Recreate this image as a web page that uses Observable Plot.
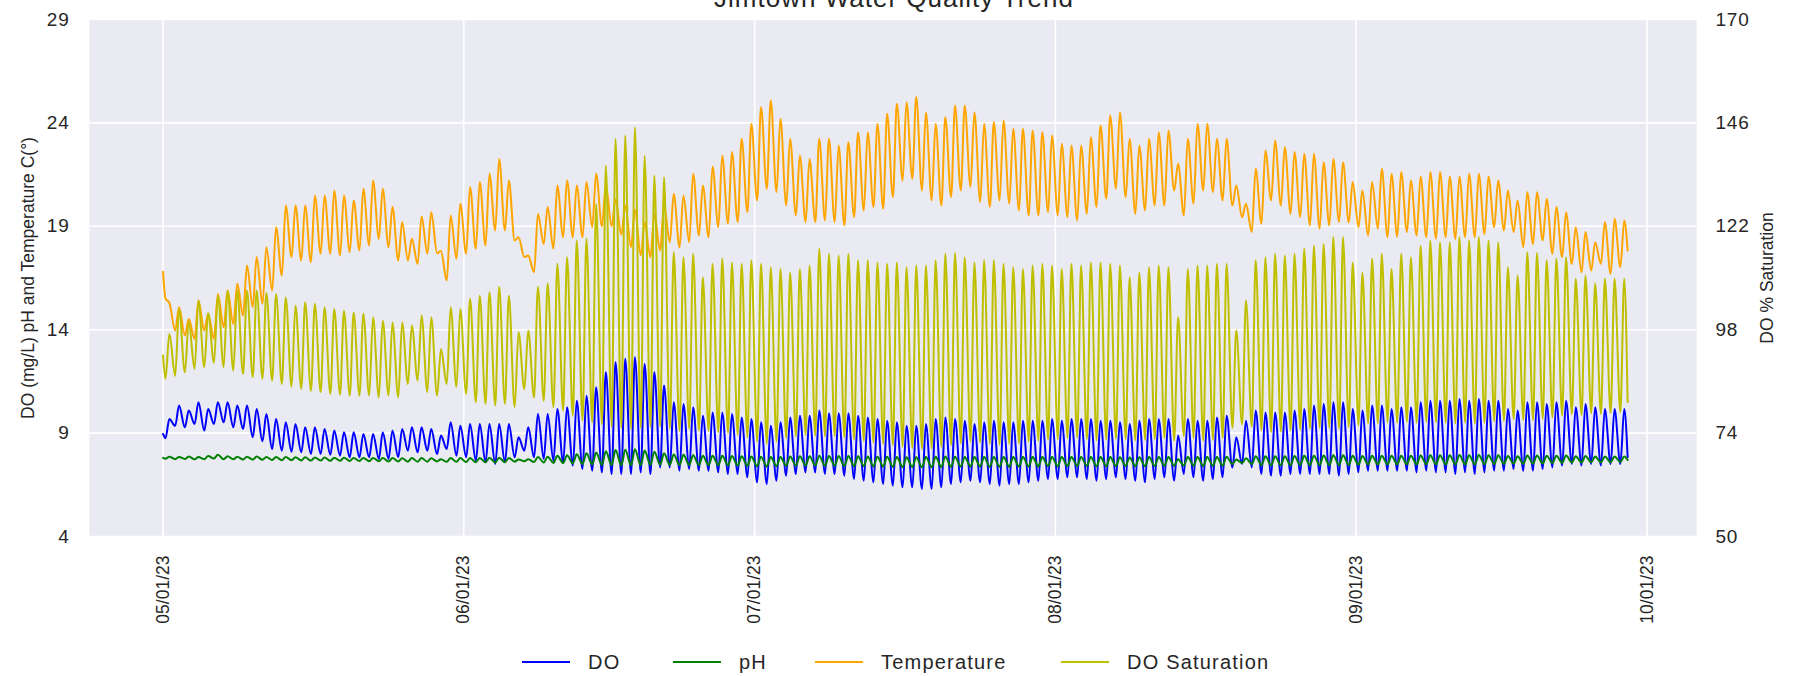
<!DOCTYPE html>
<html>
<head>
<meta charset="utf-8">
<script src="https://cdn.jsdelivr.net/npm/d3@7"></script>
<script src="https://cdn.jsdelivr.net/npm/@observablehq/plot@0.6"></script>
<style>
  html, body { margin: 0; padding: 0; background: #ffffff; }
  body { width: 1804px; height: 676px; overflow: hidden; position: relative;
         font-family: "Liberation Sans", Arial, sans-serif; color: #262626; }
  #title { position: absolute; left: -8px; width: 1804px; top: -14px; text-align: center;
           font-size: 26px; line-height: 25px; letter-spacing: 1px; color: #262626; white-space: nowrap; }
  #chart { position: absolute; left: 0; top: 0; }
  #legend { position: absolute; left: 0; top: 650px; width: 1804px; height: 24px; }
  .lg-line { position: absolute; top: 11px; height: 2px; width: 48px; }
  .lg-text { position: absolute; top: 0; font-size: 20px; line-height: 24px; letter-spacing: 1.2px; color: #262626; white-space: nowrap; }
  svg [aria-label="y-axis tick label"] text { letter-spacing: 0.8px; }
</style>
</head>
<body>
<div id="title"></div>
<div id="chart"></div>
<div id="legend"></div>
<script>
// ---------------- data (daily low / high readings, May 1 – Sep 29, 2023) ----------------
const chartTitle = "Jimtown Water Quality Trend";
const leftLabel = "DO (mg/L) pH and Temperature C(°)";
const rightLabel = "DO % Saturation";
const seriesNames = ["DO", "pH", "Temperature", "DO Saturation"];
const seriesColors = ["#0000ff", "#008000", "#ffa500", "#bfbf00"];
const monthTicks = ["2023-05-01", "2023-06-01", "2023-07-01", "2023-08-01", "2023-09-01", "2023-10-01"];
const leftTicks = [4, 9, 14, 19, 24, 29];
const rightTicks = [50, 74, 98, 122, 146, 170];
const startDate = "2023-05-01";

// Dissolved oxygen (mg/L)
const doStart = 8.96, doEnd = 7.83;
const doLo = [8.75,9.35,9.28,9.44,9.12,9.44,9.52,9.28,9.2,8.8,
  8.6,8.23,8.15,8.1,8.07,7.99,7.99,7.95,7.91,7.83,
  7.83,7.83,7.75,7.75,7.83,8.15,8.07,8.15,7.99,8.23,
  7.91,7.83,7.67,7.59,7.51,7.59,7.83,8.15,7.83,7.75,
  7.67,7.59,7.43,7.26,7.18,7.1,7.02,7.02,7.02,7.1,
  7.02,7.34,7.34,7.18,7.26,7.18,7.18,7.1,7.02,7.02,
  6.86,6.62,6.54,6.7,6.94,7.02,7.1,7.1,7.02,7.02,
  6.94,6.78,6.7,6.62,6.54,6.46,6.38,6.38,6.3,6.3,
  6.38,6.54,6.62,6.7,6.62,6.54,6.46,6.54,6.54,6.62,
  6.7,6.78,6.78,6.86,6.86,6.78,6.7,6.78,6.86,6.78,
  6.7,6.62,6.78,6.86,6.7,7.02,6.86,6.7,6.78,6.86,
  7.34,7.51,7.34,7.02,6.94,6.94,7.02,7.02,7.02,7.02,
  7.02,6.94,7.02,7.1,7.18,7.18,7.18,7.18,7.18,7.1,
  7.18,7.1,7.1,7.02,7.1,7.02,7.1,7.18,7.18,7.26,
  7.18,7.18,7.26,7.34,7.43,7.51,7.43,7.51,7.43,7.51,
  7.51];
const doHi = [9.68,10.33,10.09,10.49,10.17,10.49,10.49,10.33,10.33,10.17,
  9.92,9.68,9.52,9.44,9.28,9.28,9.2,9.12,9.04,9.04,
  8.96,8.96,9.04,9.12,9.2,9.28,9.28,9.2,8.88,9.52,
  9.36,9.44,9.44,9.44,9.44,9.44,8.8,9.28,9.92,9.92,
  10.17,10.25,10.57,10.81,11.22,11.94,12.42,12.59,12.67,12.34,
  11.94,11.3,10.49,10.41,10.25,9.84,10.0,10.0,9.92,9.76,
  9.68,9.52,9.36,9.52,9.76,9.84,9.84,10.09,9.96,9.96,
  9.96,9.84,9.76,9.68,9.6,9.52,9.36,9.36,9.44,9.68,
  9.76,9.68,9.6,9.44,9.52,9.6,9.52,9.52,9.6,9.6,
  9.6,9.68,9.6,9.68,9.68,9.68,9.6,9.6,9.52,9.44,
  9.6,9.68,9.68,9.68,8.88,9.68,9.6,9.6,9.76,9.84,
  8.8,9.6,10.09,10.0,10.0,10.0,10.09,10.17,10.33,10.41,
  10.49,10.49,10.17,10.09,10.33,10.33,10.17,10.25,10.25,10.49,
  10.57,10.57,10.57,10.65,10.57,10.65,10.57,10.57,10.17,10.09,
  10.49,10.49,10.41,10.49,10.57,10.25,10.41,10.25,10.17,10.17,
  10.17];

// pH
const phStart = 7.8, phEnd = 7.7;
const phLo = [7.76,7.74,7.75,7.73,7.74,7.77,7.74,7.73,7.72,7.72,
  7.71,7.70,7.69,7.69,7.68,7.67,7.67,7.66,7.66,7.65,
  7.65,7.64,7.64,7.63,7.63,7.62,7.62,7.62,7.63,7.61,
  7.61,7.60,7.59,7.59,7.58,7.59,7.62,7.64,7.60,7.58,
  7.56,7.55,7.53,7.50,7.48,7.46,7.45,7.44,7.44,7.45,
  7.46,7.47,7.47,7.46,7.46,7.45,7.45,7.44,7.44,7.43,
  7.42,7.40,7.39,7.40,7.42,7.43,7.43,7.43,7.42,7.42,
  7.41,7.40,7.40,7.39,7.38,7.37,7.36,7.36,7.35,7.35,
  7.36,7.37,7.38,7.38,7.38,7.37,7.37,7.37,7.38,7.38,
  7.39,7.40,7.40,7.41,7.41,7.41,7.40,7.40,7.41,7.41,
  7.40,7.40,7.41,7.42,7.42,7.43,7.42,7.41,7.42,7.42,
  7.50,7.55,7.50,7.45,7.44,7.44,7.44,7.45,7.45,7.45,
  7.45,7.45,7.46,7.47,7.48,7.48,7.48,7.48,7.49,7.49,
  7.49,7.49,7.48,7.48,7.48,7.48,7.49,7.50,7.51,7.52,
  7.51,7.52,7.53,7.55,7.56,7.58,7.58,7.59,7.58,7.59,
  7.60];
const phHi = [7.86,7.85,7.87,7.84,7.89,7.95,7.88,7.86,7.86,7.87,
  7.85,7.84,7.84,7.83,7.83,7.82,7.82,7.81,7.81,7.80,
  7.80,7.80,7.79,7.79,7.78,7.79,7.79,7.78,7.74,7.80,
  7.79,7.80,7.80,7.81,7.81,7.80,7.72,7.74,7.84,7.86,
  7.90,7.93,7.98,8.02,8.06,8.12,8.18,8.20,8.22,8.16,
  8.10,8.02,7.96,7.95,7.93,7.90,7.91,7.90,7.89,7.88,
  7.87,7.86,7.84,7.85,7.87,7.88,7.88,7.90,7.89,7.89,
  7.89,7.88,7.87,7.86,7.86,7.85,7.83,7.83,7.84,7.86,
  7.87,7.86,7.85,7.84,7.84,7.85,7.84,7.84,7.84,7.84,
  7.84,7.85,7.84,7.85,7.85,7.85,7.84,7.84,7.83,7.82,
  7.83,7.84,7.84,7.84,7.74,7.84,7.84,7.84,7.85,7.86,
  7.72,7.78,7.88,7.88,7.88,7.88,7.89,7.90,7.91,7.92,
  7.93,7.93,7.90,7.89,7.91,7.91,7.90,7.91,7.91,7.92,
  7.93,7.93,7.93,7.94,7.93,7.94,7.93,7.93,7.89,7.88,
  7.92,7.92,7.91,7.91,7.92,7.88,7.89,7.87,7.87,7.87,
  7.87];

// Water temperature (°C)
const tempStart = 16.8, tempEnd = 17.83;
const tempLo = [15.5,13.96,13.72,13.55,13.96,13.55,14.12,14.28,14.68,15.09,
  15.25,15.89,16.62,17.51,17.35,17.26,17.67,17.67,17.59,17.75,
  17.83,18.07,18.39,17.99,17.35,17.35,17.18,17.67,17.7,16.38,
  17.43,17.67,17.91,18.07,18.8,18.8,18.31,17.51,16.78,18.15,
  17.91,18.47,18.47,18.47,18.96,19.0,19.0,18.6,18.0,17.6,
  17.5,17.83,18.23,17.99,18.23,18.55,18.47,18.96,19.12,19.2,
  19.68,20.25,20.81,20.65,20.0,19.52,19.2,19.2,19.28,19.2,
  19.04,19.44,19.76,19.93,19.85,20.41,21.2,21.3,20.73,20.25,
  20.0,20.41,20.73,20.9,20.17,19.93,20.25,20.09,19.76,19.52,
  19.52,19.68,19.52,19.44,19.28,19.6,19.93,20.33,20.81,20.41,
  19.6,19.76,20.0,20.0,20.73,19.52,20.09,20.73,20.65,20.25,
  20.0,19.44,18.72,19.12,20.25,20.0,19.6,19.44,19.04,18.88,
  19.04,19.2,19.2,18.96,18.55,18.88,18.47,18.5,18.72,18.55,
  18.47,18.39,18.47,18.39,18.47,18.47,18.63,18.96,18.8,18.72,
  17.99,18.15,18.31,17.67,17.51,17.18,16.78,16.86,17.18,16.7,
  17.02];
const tempHi = [15.3,15.09,14.52,15.41,14.77,15.73,15.89,16.22,17.1,17.51,
  17.99,18.96,20.0,20.0,20.0,20.49,20.49,20.73,20.49,20.25,
  20.81,21.22,20.81,19.93,19.2,18.4,19.47,19.68,17.8,19.52,
  20.09,20.9,21.14,21.54,22.26,21.22,18.47,17.59,19.6,19.93,
  20.97,21.22,20.97,21.14,21.54,21.0,20.3,20.0,19.8,19.2,
  19.6,20.0,20.57,20.49,21.54,20.97,21.89,22.42,22.59,23.23,
  23.96,24.76,25.09,24.2,23.23,22.42,22.26,23.23,23.23,22.91,
  23.07,23.55,23.55,23.96,24.44,24.92,25.0,25.25,24.52,23.96,
  24.28,24.84,24.84,24.52,23.96,24.04,24.12,23.72,23.72,23.63,
  23.55,23.39,22.99,22.91,22.91,23.31,23.88,24.36,24.52,23.23,
  22.91,23.23,23.55,23.63,22.02,23.23,23.96,23.96,23.23,23.23,
  20.97,20.09,21.78,22.67,23.15,22.83,22.59,22.51,22.51,22.1,
  22.26,22.1,21.14,20.73,21.14,21.78,21.54,21.62,21.22,21.41,
  21.62,21.62,21.41,21.41,21.54,21.54,21.41,21.22,20.73,20.25,
  20.65,20.65,20.33,19.93,19.68,18.96,18.72,18.23,19.2,19.36,
  19.28];

// DO % saturation (right axis)
const satStart = 92, satEnd = 81.2;
const satLo = [86.6,87.3,88.1,88.9,89.3,90.3,89.3,88.5,87.7,87.0,
  86.6,86.2,85.4,84.7,84.3,83.8,83.5,83.1,82.9,82.7,
  82.7,82.7,82.3,82.7,82.3,85.4,86.2,83.5,82.7,85.4,
  84.7,83.1,81.2,80.8,80.4,80.8,80.0,84.2,82.3,81.5,
  80.0,79.2,78.0,76.9,76.5,76.0,75.5,75.2,75.0,75.2,
  75.4,75.5,75.0,74.5,75.0,74.6,74.5,74.2,74.0,73.6,
  73.0,72.0,71.5,72.0,72.8,73.2,73.5,73.4,73.2,73.3,
  73.0,72.5,72.2,71.8,71.5,71.2,70.8,70.5,70.3,70.4,
  70.8,71.2,71.6,72.0,71.8,71.5,71.3,71.5,71.6,72.0,
  72.2,72.5,72.6,72.8,73.0,72.6,72.3,72.5,72.7,72.6,
  72.3,72.4,72.6,72.8,72.2,73.3,72.8,72.2,72.4,72.8,
  75.2,76.0,75.5,74.6,74.2,74.3,74.6,74.8,75.0,75.2,
  75.2,75.0,75.4,75.8,76.2,76.3,76.5,76.4,76.6,76.4,
  76.6,76.5,76.4,76.2,76.4,76.2,76.4,76.7,76.8,77.2,
  77.0,77.0,77.3,77.6,78.0,78.4,78.2,78.6,78.4,78.7,
  78.8];
const satHi = [97.0,102.8,99.9,104.8,101.8,105.9,107.1,107.1,107.1,107.1,
  106.6,106.3,105.5,103.6,104.4,104.0,103.2,102.8,102.4,102.0,
  101.7,100.9,100.1,99.7,99.7,99.0,101.3,100.9,93.5,103.2,
  102.8,105.2,105.9,106.7,107.9,105.9,97.4,97.8,107.9,108.7,
  113.3,114.8,118.7,119.1,127.2,136.1,142.3,143.1,145.0,138.4,
  133.8,133.4,116.0,114.8,115.6,110.2,113.3,114.5,113.6,113.3,
  114.1,113.3,112.5,112.1,111.3,112.1,112.9,116.8,115.6,115.2,
  115.6,114.1,114.1,113.6,113.3,113.6,112.5,112.9,112.9,114.1,
  115.6,115.8,114.8,113.6,114.1,114.1,113.3,112.5,112.1,112.9,
  113.3,112.9,112.1,113.3,112.9,113.6,113.6,113.3,112.9,110.2,
  111.3,112.5,112.9,112.5,100.9,112.1,112.9,112.9,113.3,113.3,
  97.8,104.8,114.1,114.8,115.6,115.2,115.6,116.8,117.5,117.9,
  119.5,119.5,113.6,111.3,114.5,115.6,112.1,115.6,114.8,117.5,
  118.7,118.3,118.3,119.5,118.7,119.5,118.7,118.3,112.5,110.6,
  116.0,115.8,114.1,114.5,114.8,109.8,110.6,108.7,109.8,109.8,
  109.8];

// ---------------- build series ----------------
const DAY = 86400000;
const t0 = Date.parse(startDate + "T00:00:00Z");
function series(start, lo, hi, end) {
  const rows = [{t: new Date(t0), v: start}];
  for (let d = 0; d < lo.length; d++) {
    rows.push({t: new Date(t0 + (d + 0.25) * DAY), v: lo[d]});
    rows.push({t: new Date(t0 + (d + 0.65) * DAY), v: hi[d]});
  }
  rows.push({t: new Date(t0 + lo.length * DAY), v: end});
  return rows;
}
const doRows = series(doStart, doLo, doHi, doEnd);
const phRows = series(phStart, phLo, phHi, phEnd);
const tempRows = series(tempStart, tempLo, tempHi, tempEnd);
const satRows = series(satStart, satLo, satHi, satEnd);

// right axis (50..170) is aligned to left axis (4..29)
const leftMin = leftTicks[0], leftMax = leftTicks[leftTicks.length - 1];
const rightMin = rightTicks[0], rightMax = rightTicks[rightTicks.length - 1];
const toLeft = s => leftMin + (s - rightMin) * (leftMax - leftMin) / (rightMax - rightMin);
const toRight = v => rightMin + (v - leftMin) * (rightMax - rightMin) / (leftMax - leftMin);

const monthDates = monthTicks.map(s => new Date(s + "T00:00:00Z"));
const fmt = d3.utcFormat("%m/%d/%y");
const textColor = "#262626";

const chart = Plot.plot({
  width: 1804,
  height: 630,
  marginLeft: 89,
  marginRight: 108,
  marginTop: 19,
  marginBottom: 94,
  style: {fontFamily: "'Liberation Sans', Arial, sans-serif", color: textColor, background: "transparent", overflow: "visible"},
  x: {type: "utc", domain: [new Date(Date.UTC(2023, 3, 23, 10)), new Date(Date.UTC(2023, 9, 6, 2, 24))]},
  y: {domain: [leftMin, leftMax]},
  marks: [
    Plot.frame({fill: "#eaeaf2", stroke: null}),
    Plot.gridX(monthDates, {stroke: "#ffffff", strokeOpacity: 1, strokeWidth: 1.6}),
    Plot.gridY(leftTicks, {stroke: "#ffffff", strokeOpacity: 1, strokeWidth: 1.6}),
    Plot.line(doRows, {x: "t", y: "v", stroke: seriesColors[0], strokeWidth: 2, curve: "monotone-x"}),
    Plot.line(phRows, {x: "t", y: "v", stroke: seriesColors[1], strokeWidth: 2, curve: "monotone-x"}),
    Plot.line(tempRows, {x: "t", y: "v", stroke: seriesColors[2], strokeWidth: 2, curve: "monotone-x"}),
    Plot.line(satRows, {x: "t", y: d => toLeft(d.v), stroke: seriesColors[3], strokeWidth: 2, curve: "monotone-x"}),
    Plot.axisX(monthDates, {tickFormat: fmt, tickRotate: -90, tickSize: 0, tickPadding: 19, fontSize: 17.5, label: null, fill: textColor}),
    Plot.axisY(leftTicks, {anchor: "left", tickSize: 0, tickPadding: 20, fontSize: 19, label: null, fill: textColor}),
    Plot.axisY(leftTicks, {anchor: "right", tickFormat: v => String(Math.round(toRight(v))), tickSize: 0, tickPadding: 19, fontSize: 19, label: null, fill: textColor}),
    Plot.text([leftLabel], {text: d => d, frameAnchor: "left", textAnchor: "middle", lineAnchor: "middle", dx: -61, rotate: -90, fontSize: 17.5, fill: textColor}),
    Plot.text([rightLabel], {text: d => d, frameAnchor: "right", textAnchor: "middle", lineAnchor: "middle", dx: 71, rotate: -90, fontSize: 17.5, fill: textColor})
  ]
});
document.getElementById("chart").appendChild(chart);
document.getElementById("title").textContent = chartTitle;

// legend below the plot
const legendLineX = [522, 673, 815, 1061];
const legend = document.getElementById("legend");
seriesNames.forEach((name, i) => {
  const ln = document.createElement("div");
  ln.className = "lg-line";
  ln.style.left = legendLineX[i] + "px";
  ln.style.background = seriesColors[i];
  legend.appendChild(ln);
  const tx = document.createElement("div");
  tx.className = "lg-text";
  tx.style.left = (legendLineX[i] + 66) + "px";
  tx.textContent = name;
  legend.appendChild(tx);
});
</script>
</body>
</html>
